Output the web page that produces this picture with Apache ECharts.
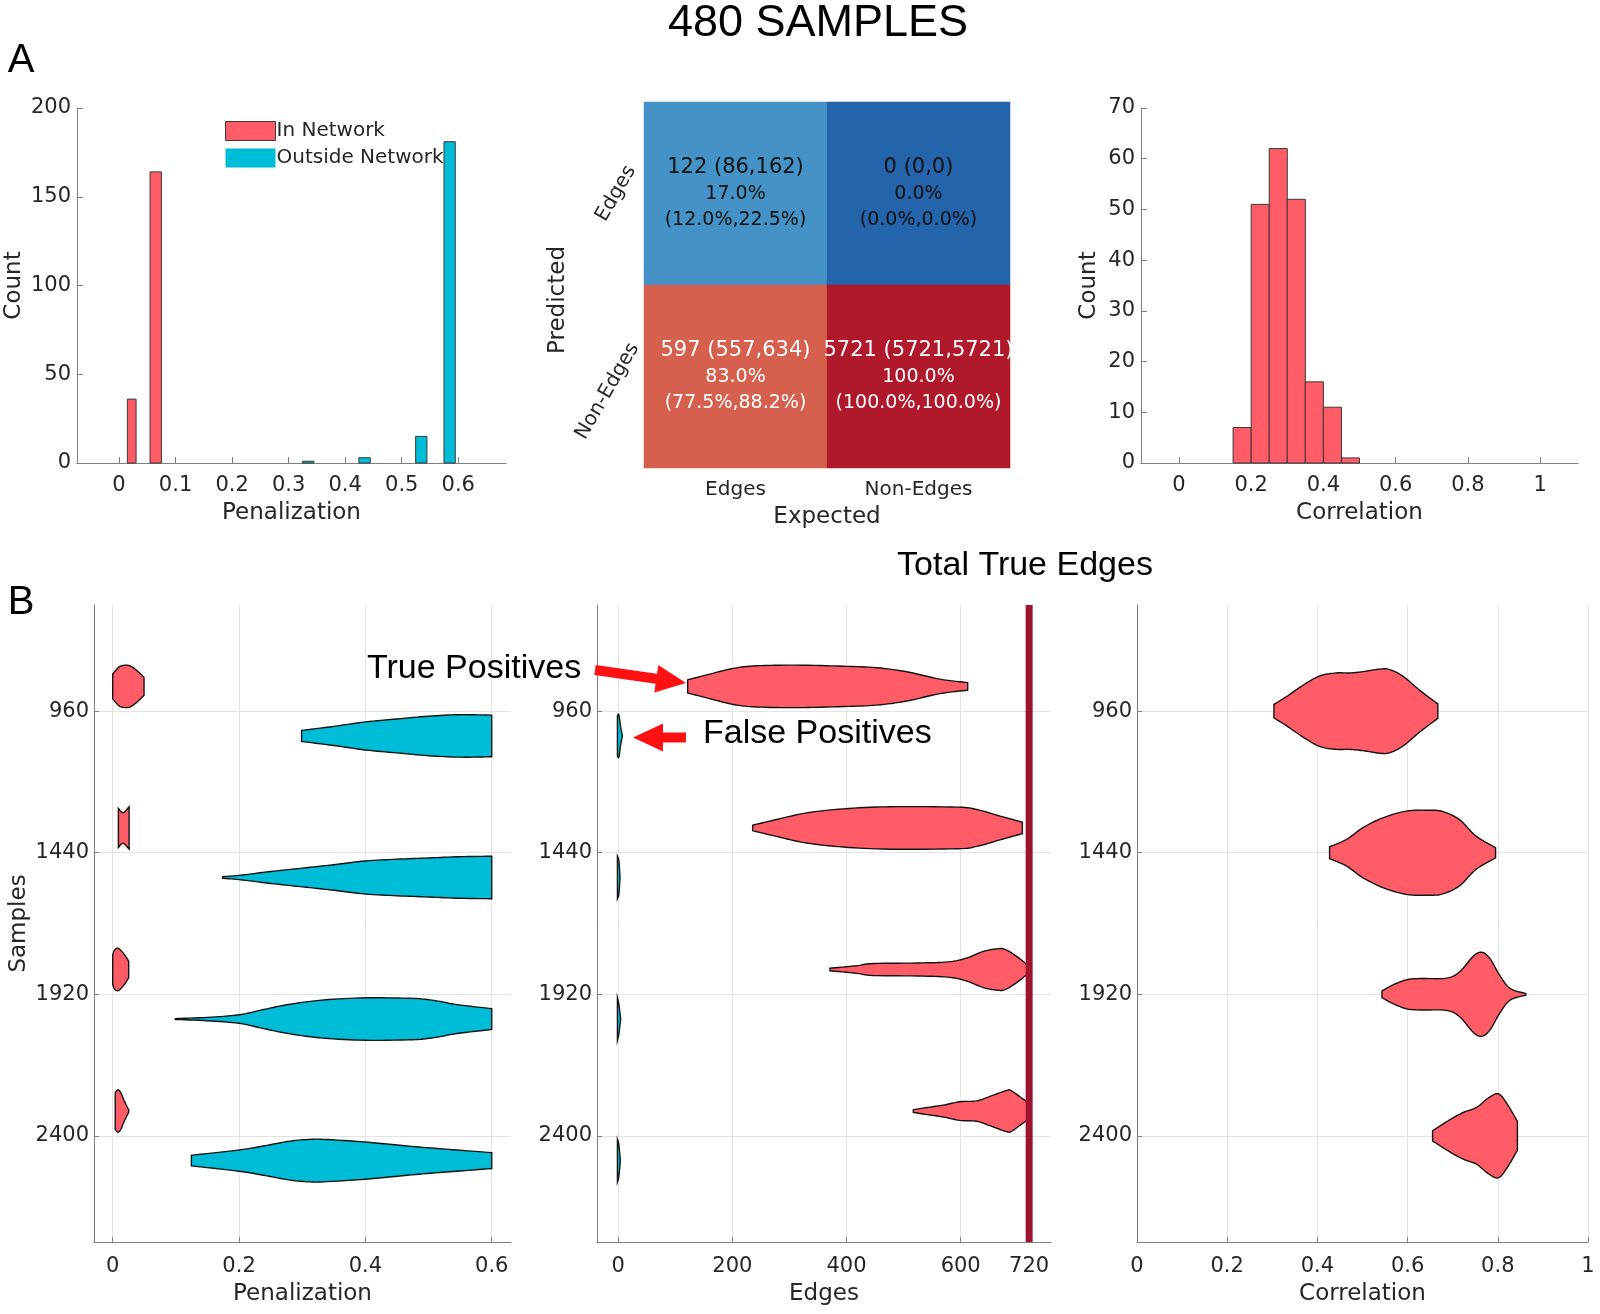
<!DOCTYPE html>
<html><head><meta charset="utf-8">
<script src="https://cdn.jsdelivr.net/npm/echarts@6/dist/echarts.min.js"></script>
<style>html,body{margin:0;padding:0;background:#fff}#c{width:1600px;height:1314px}</style>
</head><body><div id="c"></div>
<script>
// ---------- DATA ----------
// Panel A left: penalization histogram (bin edges, counts)
const penBinsIn = [[0.0148, 0.0302], [0.0549, 0.0750]];
const penCountsIn = [36, 164];
const penBinsOut = [[0.3245, 0.3446], [0.4242, 0.4443], [0.5246, 0.5446], [0.5747, 0.5947]];
const penCountsOut = [1, 3, 15, 181];
const penTicks = [0, 0.1, 0.2, 0.3, 0.4, 0.5, 0.6];

// Panel A middle: confusion matrix (cells: [expected, predicted])
const cmExpected = ['Edges', 'Non-Edges'];
const cmPredicted = ['Non-Edges', 'Edges'];
const cmCells = [[0, 1], [1, 1], [0, 0], [1, 0]];
const cmCount = [122, 0, 597, 5721];
const cmCountLo = [86, 0, 557, 5721];
const cmCountHi = [162, 0, 634, 5721];
const cmPct = [17.0, 0.0, 83.0, 100.0];
const cmPctLo = [12.0, 0.0, 77.5, 100.0];
const cmPctHi = [22.5, 0.0, 88.2, 100.0];

// Panel A right: correlation histogram
const corrEdges = [0.15, 0.2, 0.25, 0.3, 0.35, 0.4, 0.45, 0.5];
const corrCounts = [7, 51, 62, 52, 16, 11, 1];
const corrTicks = [0, 0.2, 0.4, 0.6, 0.8, 1];

// Panel B: violins per sample size, profile = [value, relative half-width]
const sampleSizes = [960, 1440, 1920, 2400];
const penInProfiles = [
  [[0, 0.58], [0.006, 0.8], [0.012, 0.95], [0.022, 1.0], [0.03, 0.93], [0.04, 0.7], [0.0496, 0.42]],
  [[0.009, 0.92], [0.0165, 0.72], [0.026, 1.0]],
  [[0, 0.7], [0.003, 0.92], [0.0085, 1.0], [0.016, 0.8], [0.022, 0.55], [0.0253, 0.38]],
  [[0.004, 0.87], [0.0085, 1.0], [0.013, 0.85], [0.018, 0.5], [0.0253, 0.05]]
];
const penOutProfiles = [
  [[0.299, 0.26], [0.35, 0.45], [0.4, 0.66], [0.45, 0.8], [0.5, 0.93], [0.55, 1.0], [0.6, 0.98]],
  [[0.174, 0.04], [0.2, 0.1], [0.25, 0.28], [0.3, 0.44], [0.35, 0.6], [0.4, 0.78], [0.45, 0.86], [0.5, 0.92], [0.55, 0.98], [0.6, 1.0]],
  [[0.0992, 0.02], [0.15, 0.08], [0.2, 0.2], [0.239, 0.45], [0.281, 0.7], [0.334, 0.9], [0.4, 1.0], [0.466, 0.98], [0.492, 0.94], [0.518, 0.83], [0.545, 0.68], [0.6, 0.49]],
  [[0.1246, 0.25], [0.2, 0.5], [0.239, 0.69], [0.281, 0.92], [0.3125, 1.0], [0.334, 1.0], [0.4, 0.875], [0.466, 0.69], [0.518, 0.56], [0.6, 0.375]]
];
const tpProfiles = [
  [[121.6, 0.31], [154.9, 0.54], [201.6, 0.85], [242.5, 0.97], [312.6, 1.0], [394.4, 0.95], [452.8, 0.88], [505.4, 0.69], [563.8, 0.34], [612.3, 0.18]],
  [[235.5, 0.13], [277.5, 0.4], [330.1, 0.71], [394.4, 0.9], [476.1, 1.0], [593, 0.98], [628, 0.87], [668.9, 0.56], [708.1, 0.27]],
  [[371, 0.06], [417.7, 0.18], [446.9, 0.28], [534.5, 0.31], [581.2, 0.37], [610.4, 0.54], [639.6, 0.85], [663, 0.97], [677.6, 0.95], [698, 0.62], [715.6, 0.25], [719, 0.2]],
  [[517, 0.06], [534.5, 0.14], [569.5, 0.28], [598.7, 0.44], [627.9, 0.48], [651.3, 0.69], [680.5, 0.97], [689.2, 0.95], [709.7, 0.56], [719, 0.4]]
];
const fpProfiles = [
  [[-1.5, 0.95], [1, 1.0], [4, 0.45], [7, 0.03]],
  [[-1.5, 1.0], [1, 0.8], [3, 0.05]],
  [[-1.5, 1.0], [1, 0.7], [4, 0.05]],
  [[-1.5, 1.0], [1, 0.75], [3.5, 0.05]]
];
const corrProfiles = [
  [[0.3036, 0.16], [0.331, 0.34], [0.368, 0.61], [0.405, 0.83], [0.442, 0.9], [0.4715, 0.9], [0.501, 0.93], [0.538, 0.99], [0.56, 0.98], [0.59, 0.82], [0.627, 0.49], [0.667, 0.17]],
  [[0.427, 0.14], [0.464, 0.31], [0.501, 0.59], [0.545, 0.82], [0.597, 0.98], [0.649, 1.0], [0.678, 0.97], [0.715, 0.78], [0.752, 0.39], [0.795, 0.12]],
  [[0.5432, 0.08], [0.5676, 0.22], [0.597, 0.34], [0.627, 0.37], [0.686, 0.38], [0.7155, 0.53], [0.745, 0.89], [0.7636, 0.99], [0.782, 0.85], [0.804, 0.45], [0.827, 0.14], [0.862, 0.02]],
  [[0.6554, 0.12], [0.6938, 0.38], [0.7234, 0.55], [0.753, 0.67], [0.7788, 0.89], [0.801, 0.99], [0.8195, 0.77], [0.8435, 0.34]]
];
const totalTrueEdges = 720;
const penBTicks = [0, 0.2, 0.4, 0.6];
const edgeTicks = [0, 200, 400, 600, 720];

// ---------- STYLE ----------
const RED = '#ff5c67', CYAN = '#00bdd7', AX = '#7f7f7f', TXT = '#262626', FONT = 'DejaVu Sans', SANS = 'Liberation Sans';
const VIOLIN_OFFSET = 84, VIOLIN_HALF = 72, CORR_HALF = 144;
const Y_MIN = 600, Y_MAX = 2760;

function merge(a, b) {
  const o = Object.assign({}, a);
  for (const k in b) {
    if (b[k] && typeof b[k] === 'object' && !Array.isArray(b[k]) && a[k] && typeof a[k] === 'object') o[k] = merge(a[k], b[k]);
    else o[k] = b[k];
  }
  return o;
}
const baseAxis = {
  type: 'value', nameLocation: 'middle',
  axisLine: { show: true, onZero: false, lineStyle: { color: AX, width: 1 } },
  axisTick: { show: true, inside: true, length: 6, lineStyle: { color: AX } },
  axisLabel: { color: TXT, fontFamily: FONT, fontSize: 21, formatter: (v) => String(v) },
  splitLine: { show: false },
  nameTextStyle: { color: TXT, fontFamily: FONT, fontSize: 23 }
};
const gridSplit = { show: true, lineStyle: { color: '#e3e3e3', width: 1 } };

function smoothPts(pts, steps) {
  steps = steps || 8;
  if (pts.length < 3) return pts;
  const out = [];
  for (let i = 0; i < pts.length - 1; i++) {
    const p0 = pts[Math.max(i - 1, 0)], p1 = pts[i], p2 = pts[i + 1], p3 = pts[Math.min(i + 2, pts.length - 1)];
    for (let s = 0; s < steps; s++) {
      const t = s / steps, t2 = t * t, t3 = t2 * t;
      const f = (k) => 0.5 * (2 * p1[k] + (-p0[k] + p2[k]) * t + (2 * p0[k] - 5 * p1[k] + 4 * p2[k] - p3[k]) * t2 + (-p0[k] + 3 * p1[k] - 3 * p2[k] + p3[k]) * t3);
      out.push([f(0), f(1)]);
    }
  }
  out.push(pts[pts.length - 1]);
  return out;
}

function histSeries(name, gi, bins, counts, color) {
  return {
    type: 'custom', name, xAxisIndex: gi, yAxisIndex: gi, color,
    data: bins.map((b, i) => [b[0], b[1], counts[i]]),
    encode: { x: [0, 1], y: 2 },
    renderItem: (params, api) => {
      const p0 = api.coord([api.value(0), 0]);
      const p1 = api.coord([api.value(1), api.value(2)]);
      return { type: 'rect', shape: { x: p0[0], y: p1[1], width: p1[0] - p0[0], height: p0[1] - p1[1] },
        style: { fill: color, stroke: '#3a3a3a', lineWidth: 1 } };
    }
  };
}

function violinSeries(name, gi, profiles, color, offset, half) {
  return {
    type: 'custom', name, xAxisIndex: gi, yAxisIndex: gi, z: 3,
    data: sampleSizes.map((s, i) => [profiles[i][0][0], s]),
    encode: { x: 0, y: 1 },
    renderItem: (params, api) => {
      const prof = profiles[params.dataIndex];
      const c = api.value(1) + offset;
      const top = smoothPts(prof.map(p => api.coord([p[0], c - p[1] * half])));
      const bot = smoothPts(prof.slice().reverse().map(p => api.coord([p[0], c + p[1] * half])));
      return { type: 'polygon', shape: { points: top.concat(bot) },
        style: { fill: color, stroke: '#141414', lineWidth: 1.4 } };
    }
  };
}

function arrow(tail, tip, sh, hh, hl, color) {
  const dx = tip[0] - tail[0], dy = tip[1] - tail[1], L = Math.hypot(dx, dy);
  const ux = dx / L, uy = dy / L, nx = -uy, ny = ux;
  const bx = tip[0] - ux * hl, by = tip[1] - uy * hl;
  return { type: 'polygon', z: 100, shape: { points: [
    [tail[0] + nx * sh, tail[1] + ny * sh], [bx + nx * sh, by + ny * sh], [bx + nx * hh, by + ny * hh],
    tip, [bx - nx * hh, by - ny * hh], [bx - nx * sh, by - ny * sh], [tail[0] - nx * sh, tail[1] - ny * sh]] },
    style: { fill: color } };
}
function txt(text, x, y, size, family, align) {
  return { type: 'text', z: 100, style: { text, x, y, fontSize: size, fontFamily: family, fill: '#000',
    align: align || 'center', verticalAlign: 'middle', textAlign: align || 'center', textVerticalAlign: 'middle' } };
}

const cmData = cmCells.map((c, i) => [c[0], c[1], cmPct[i]]);

const option = {
  animation: false,
  backgroundColor: '#fff',
  grid: [
    { left: 77, top: 108, width: 429, height: 355 },
    { left: 644, top: 102, width: 366, height: 366 },
    { left: 1141, top: 108, width: 437, height: 355 },
    { left: 94, top: 605, width: 417, height: 637 },
    { left: 597, top: 605, width: 454, height: 637 },
    { left: 1137, top: 605, width: 451, height: 637 }
  ],
  legend: {
    left: 220, top: 116, orient: 'vertical', icon: 'rect', itemWidth: 50, itemHeight: 19, itemGap: 7,
    textStyle: { color: TXT, fontFamily: FONT, fontSize: 20, padding: [0, 0, 0, -4] },
    data: [
      { name: 'In Network', itemStyle: { borderColor: '#3a3a3a', borderWidth: 1 } },
      { name: 'Outside Network', itemStyle: { borderWidth: 0 } }
    ]
  },
  visualMap: [{
    type: 'piecewise', show: false, seriesIndex: 2, dimension: 2,
    pieces: [
      { lt: 5, color: '#2364ab' }, { gte: 5, lt: 50, color: '#4593c6' },
      { gte: 50, lt: 95, color: '#d6604e' }, { gte: 95, color: '#b0182c' }
    ]
  }],
  xAxis: [
    merge(baseAxis, { gridIndex: 0, min: -0.0743, max: 0.6844, name: 'Penalization', nameGap: 39,
      axisTick: { customValues: penTicks }, axisLabel: { customValues: penTicks, margin: 12 } }),
    { type: 'category', gridIndex: 1, data: cmExpected, name: 'Expected', nameLocation: 'middle', nameGap: 38,
      axisLine: { show: false }, axisTick: { show: false },
      axisLabel: { color: TXT, fontFamily: FONT, fontSize: 20, margin: 12 },
      nameTextStyle: { color: TXT, fontFamily: FONT, fontSize: 23 } },
    merge(baseAxis, { gridIndex: 2, min: -0.105, max: 1.105, name: 'Correlation', nameGap: 39,
      axisTick: { customValues: corrTicks }, axisLabel: { customValues: corrTicks, margin: 12 } }),
    merge(baseAxis, { gridIndex: 3, min: -0.0296, max: 0.6305, name: 'Penalization', nameGap: 41,
      axisTick: { customValues: penBTicks, length: 5 }, axisLabel: { customValues: penBTicks, margin: 14 }, splitLine: gridSplit }),
    merge(baseAxis, { gridIndex: 4, min: -37.3, max: 758.3, name: 'Edges', nameGap: 41,
      axisTick: { customValues: edgeTicks, length: 5 }, axisLabel: { customValues: edgeTicks, margin: 14 }, splitLine: gridSplit }),
    merge(baseAxis, { gridIndex: 5, min: 0, max: 1, interval: 0.2, name: 'Correlation', nameGap: 41,
      axisTick: { length: 5 }, axisLabel: { margin: 14 }, splitLine: gridSplit })
  ],
  yAxis: [
    merge(baseAxis, { gridIndex: 0, min: 0, max: 200, interval: 50, name: 'Count', nameGap: 51, axisLabel: { margin: 6 } }),
    { type: 'category', gridIndex: 1, data: cmPredicted, name: 'Predicted', nameLocation: 'middle', nameGap: 68,
      axisLine: { show: false }, axisTick: { show: false },
      axisLabel: { color: TXT, fontFamily: FONT, fontSize: 20, rotate: 60, align: 'center', verticalAlign: 'middle', margin: 28,
        formatter: (v) => v === 'Non-Edges' ? '{n|' + v + '}' : v,
        rich: { n: { color: TXT, fontFamily: FONT, fontSize: 20, padding: [0, 34, 0, 0] } } },
      nameTextStyle: { color: TXT, fontFamily: FONT, fontSize: 23, padding: [0, 30, 0, 0] } },
    merge(baseAxis, { gridIndex: 2, min: 0, max: 70, interval: 10, name: 'Count', nameGap: 40, axisLabel: { margin: 6 } }),
    merge(baseAxis, { gridIndex: 3, min: Y_MIN, max: Y_MAX, inverse: true, name: 'Samples', nameGap: 63,
      axisTick: { customValues: sampleSizes, length: 5 }, axisLabel: { customValues: sampleSizes, margin: 5 }, splitLine: gridSplit }),
    merge(baseAxis, { gridIndex: 4, min: Y_MIN, max: Y_MAX, inverse: true,
      axisTick: { customValues: sampleSizes, length: 5 }, axisLabel: { customValues: sampleSizes, margin: 5 }, splitLine: gridSplit }),
    merge(baseAxis, { gridIndex: 5, min: Y_MIN, max: Y_MAX, inverse: true,
      axisTick: { customValues: sampleSizes, length: 5 }, axisLabel: { customValues: sampleSizes, margin: 5 }, splitLine: gridSplit })
  ],
  series: [
    histSeries('In Network', 0, penBinsIn, penCountsIn, RED),
    histSeries('Outside Network', 0, penBinsOut, penCountsOut, CYAN),
    {
      type: 'heatmap', name: 'confusion', xAxisIndex: 1, yAxisIndex: 1, data: cmData,
      label: {
        show: true,
        formatter: (p) => {
          const i = p.dataIndex, top = cmCells[i][1] === 1;
          const a = top ? 'a' : 'c', b = top ? 'b' : 'd';
          return '{' + a + '|' + cmCount[i] + ' (' + cmCountLo[i] + ',' + cmCountHi[i] + ')}\n' +
            '{' + b + '|' + cmPct[i].toFixed(1) + '%}\n' +
            '{' + b + '|(' + cmPctLo[i].toFixed(1) + '%,' + cmPctHi[i].toFixed(1) + '%)}';
        },
        rich: {
          a: { fontFamily: FONT, fontSize: 21, color: '#111', lineHeight: 27 },
          b: { fontFamily: FONT, fontSize: 19, color: '#111', lineHeight: 26 },
          c: { fontFamily: FONT, fontSize: 21, color: '#fff', lineHeight: 27 },
          d: { fontFamily: FONT, fontSize: 19, color: '#fff', lineHeight: 26 }
        }
      }
    },
    histSeries('Correlation', 2, corrEdges.slice(0, -1).map((e, i) => [e, corrEdges[i + 1]]), corrCounts, RED),
    violinSeries('Pen In', 3, penInProfiles, RED, -VIOLIN_OFFSET, VIOLIN_HALF),
    violinSeries('Pen Out', 3, penOutProfiles, CYAN, VIOLIN_OFFSET, VIOLIN_HALF),
    violinSeries('True Positives', 4, tpProfiles, RED, -VIOLIN_OFFSET, VIOLIN_HALF),
    violinSeries('False Positives', 4, fpProfiles, CYAN, VIOLIN_OFFSET, VIOLIN_HALF),
    {
      type: 'line', name: 'Total True Edges', xAxisIndex: 4, yAxisIndex: 4, z: 6, symbol: 'none',
      data: [[totalTrueEdges, Y_MIN], [totalTrueEdges, Y_MAX]],
      lineStyle: { color: '#9e1430', width: 7 }
    },
    violinSeries('Correlation B', 5, corrProfiles, RED, 0, CORR_HALF)
  ],
  graphic: [
    txt('480 SAMPLES', 818, 24, 45, SANS),
    txt('A', 21, 61, 40, SANS),
    txt('B', 21, 603, 40, SANS),
    txt('Total True Edges', 1025, 566, 34, SANS),
    txt('True Positives', 367, 669, 34, SANS, 'left'),
    txt('False Positives', 703, 734, 34, SANS, 'left'),
    arrow([595, 670], [686, 683], 5, 14, 30, '#ff1111'),
    arrow([686, 737.5], [633, 737.5], 5, 14, 30, '#ff1111')
  ]
};

const chart = echarts.init(document.getElementById('c'), null, { renderer: 'canvas' });
chart.setOption(option);
</script></body></html>
